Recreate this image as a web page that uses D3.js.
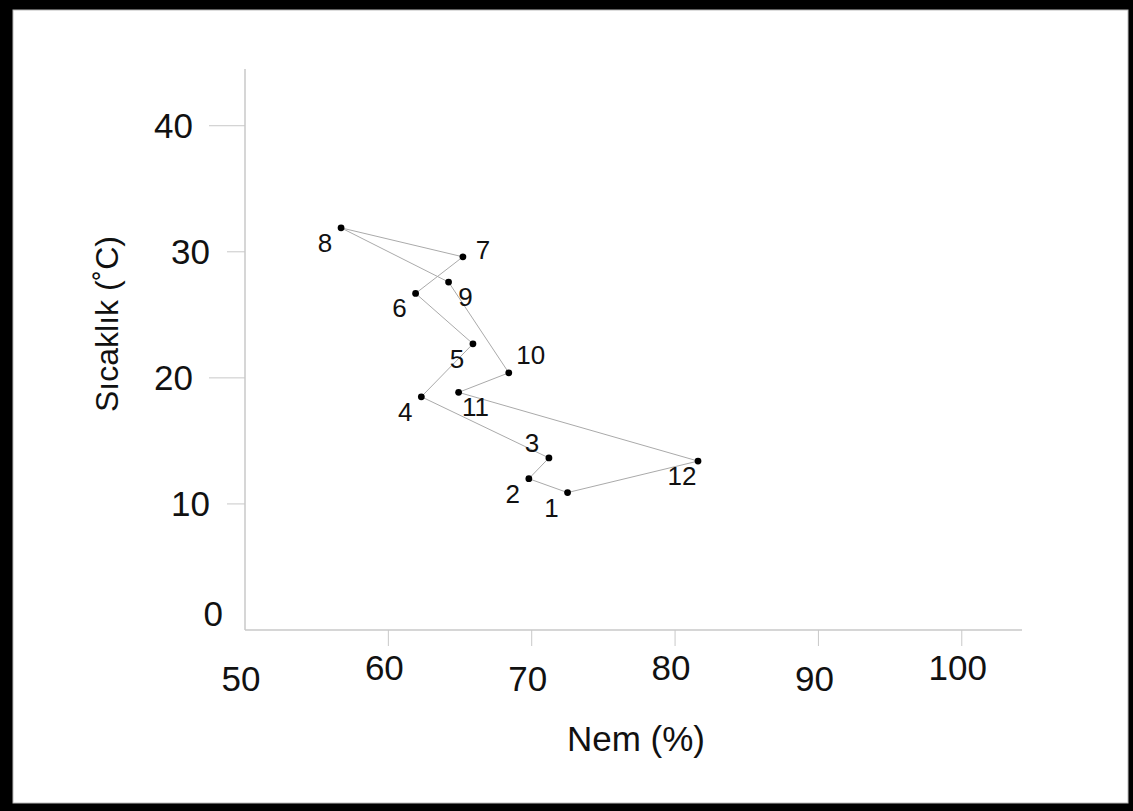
<!DOCTYPE html>
<html>
<head>
<meta charset="utf-8">
<script src="https://cdn.jsdelivr.net/npm/d3@7"></script>
<style>
  html, body { margin: 0; padding: 0; background: #fff; }
  svg { display: block; font-family: "Liberation Sans", Arial, sans-serif; }
</style>
</head>
<body>
<div id="chart"></div>
<script>
// month numbers, humidity (%) and temperature (C)
const months = [1, 2, 3, 4, 5, 6, 7, 8, 9, 10, 11, 12];
const humidity = [72.5, 69.8, 71.2, 62.3, 65.9, 61.9, 65.2, 56.7, 64.2, 68.4, 64.9, 81.6];
const temperature = [10.9, 12.0, 13.65, 18.5, 22.7, 26.7, 29.6, 31.9, 27.6, 20.4, 18.85, 13.4];
// where each month label sits relative to its dot
const labelSide = ["sw", "sw", "nw", "sw", "sw", "sw", "e", "sw", "se", "ne", "se", "sw"];

const xTicks = [50, 60, 70, 80, 90, 100];
const yTicks = [0, 10, 20, 30, 40];

const width = 1133;
const height = 811;

const svg = d3.select("#chart").append("svg")
    .attr("width", width)
    .attr("height", height);

// black frame round the picture
svg.append("rect")
    .attr("width", width).attr("height", height)
    .attr("fill", "#000");
svg.append("rect")
    .attr("x", 13).attr("y", 10)
    .attr("width", 1115).attr("height", 793)
    .attr("fill", "#fff")
    .attr("stroke", "#bbb")
    .attr("stroke-width", 1);

const x = d3.scaleLinear().domain([50, 104.2]).range([245, 1022]);
const y = d3.scaleLinear().domain([0, 44.5]).range([630, 69]);

const axisColor = "#c8c8c8";

// axis lines
svg.append("line")
    .attr("x1", x(50)).attr("x2", x(50))
    .attr("y1", y(0)).attr("y2", y(44.5))
    .attr("stroke", axisColor).attr("stroke-width", 1.5);
svg.append("line")
    .attr("x1", x(50)).attr("x2", x(104.2))
    .attr("y1", y(0)).attr("y2", y(0))
    .attr("stroke", axisColor).attr("stroke-width", 1.5);

// x ticks, labels stagger up and down
const xg = svg.append("g");
xg.selectAll("line")
    .data(xTicks.filter(d => d > 50))
    .join("line")
        .attr("x1", d => x(d)).attr("x2", d => x(d))
        .attr("y1", y(0)).attr("y2", y(0) + 16)
        .attr("stroke", axisColor).attr("stroke-width", 1);
xg.selectAll("text")
    .data(xTicks)
    .join("text")
        .attr("x", d => x(d) - 4)
        .attr("y", (d, i) => i % 2 == 0 ? 691 : 680)
        .attr("text-anchor", "middle")
        .attr("font-size", 35)
        .attr("fill", "#111")
        .text(d => d);

// y ticks, long and short ones alternate
const yg = svg.append("g");
yg.selectAll("line")
    .data(yTicks.filter(d => d > 0))
    .join("line")
        .attr("x1", (d, i) => i % 2 == 0 ? x(50) - 18 : x(50) - 36)
        .attr("x2", x(50))
        .attr("y1", d => y(d)).attr("y2", d => y(d))
        .attr("stroke", axisColor).attr("stroke-width", 1);
yg.selectAll("text")
    .data(yTicks)
    .join("text")
        .attr("x", (d, i) => d == 0 ? 223 : (i % 2 == 1 ? 210 : 193))
        .attr("y", d => d == 0 ? 626 : y(d) + 12)
        .attr("text-anchor", "end")
        .attr("font-size", 35)
        .attr("fill", "#111")
        .text(d => d);

// axis titles
svg.append("text")
    .attr("x", 636).attr("y", 751)
    .attr("text-anchor", "middle")
    .attr("font-size", 35)
    .attr("fill", "#111")
    .text("Nem (%)");
svg.append("text")
    .attr("transform", "translate(118,324) rotate(-90)")
    .attr("text-anchor", "middle")
    .attr("font-size", 32)
    .attr("fill", "#111")
    .text("Sıcaklık (˚C)");

// closed loop through the months
const pts = months.map((m, i) => ({m: m, h: humidity[i], t: temperature[i], side: labelSide[i]}));

const line = d3.line()
    .x(d => x(d.h))
    .y(d => y(d.t))
    .curve(d3.curveLinearClosed);

svg.append("path")
    .datum(pts)
    .attr("d", line)
    .attr("fill", "none")
    .attr("stroke", "#aaa")
    .attr("stroke-width", 1);

svg.append("g")
    .selectAll("circle")
    .data(pts)
    .join("circle")
        .attr("cx", d => x(d.h))
        .attr("cy", d => y(d.t))
        .attr("r", 3.4)
        .attr("fill", "#000");

const offsets = {
    sw: [-16, 24],
    se: [17, 24],
    nw: [-17, -6],
    ne: [22, -9],
    e: [20, 2]
};

svg.append("g")
    .selectAll("text")
    .data(pts)
    .join("text")
        .attr("x", d => x(d.h) + offsets[d.side][0])
        .attr("y", d => y(d.t) + offsets[d.side][1])
        .attr("text-anchor", "middle")
        .attr("font-size", 26)
        .attr("fill", "#111")
        .text(d => d.m);
</script>
</body>
</html>
